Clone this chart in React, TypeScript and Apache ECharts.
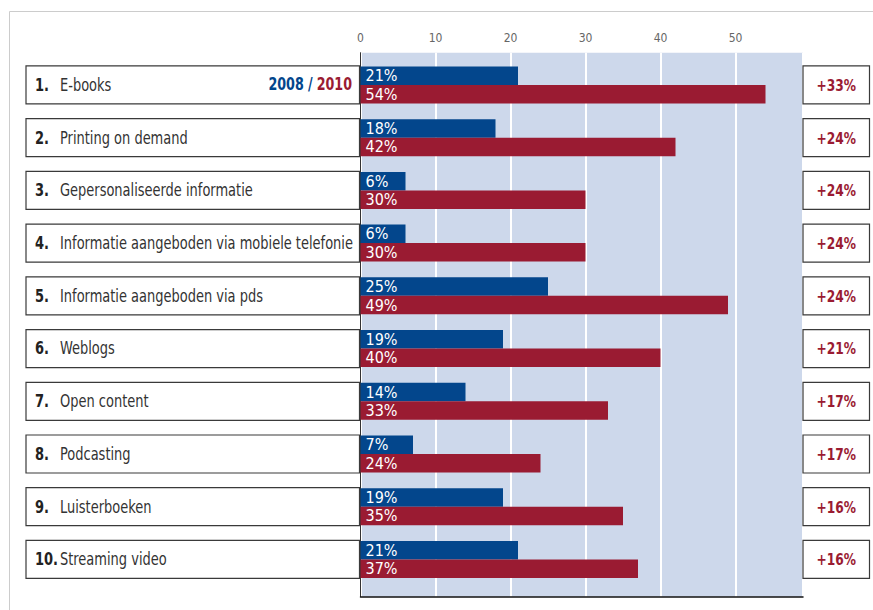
import React, { useEffect, useRef } from "react";
import * as echarts from "echarts";

const categories = [
  "E-books",
  "Printing on demand",
  "Gepersonaliseerde informatie",
  "Informatie aangeboden via mobiele telefonie",
  "Informatie aangeboden via pds",
  "Weblogs",
  "Open content",
  "Podcasting",
  "Luisterboeken",
  "Streaming video",
];
const values2008 = [21, 18, 6, 6, 25, 19, 14, 7, 19, 21];
const values2010 = [54, 42, 30, 30, 49, 40, 33, 24, 35, 37];
const growth = ["+33%", "+24%", "+24%", "+24%", "+24%", "+21%", "+17%", "+17%", "+16%", "+16%"];
const xTicks = [0, 10, 20, 30, 40, 50];

const FONT = "'DejaVu Sans Condensed', 'Liberation Sans', sans-serif";
const BLUE = "#03468c";
const RED = "#9a1b32";
const SX = 0.85;

export default function App() {
  const ref = useRef<HTMLDivElement>(null);
  useEffect(() => {
    if (!ref.current) return;
    const chart = echarts.init(ref.current, null, { renderer: "svg" });
    const gridLeft = 360.5;
    const gridWidth = 442.5;
    const barLabel = {
      show: true,
      position: "insideLeft",
      distance: 5,
      formatter: "{c}%",
      color: "#ffffff",
      fontSize: 16,
      fontFamily: FONT,
    };
    const option: any = {
      animation: false,
      backgroundColor: "#ffffff",
      grid: [
        {
          left: gridLeft,
          width: gridWidth,
          top: 52.7,
          height: 544,
          show: true,
          backgroundColor: "#cdd8eb",
          borderWidth: 0,
        },
        {
          left: gridLeft,
          width: gridWidth,
          top: 58.6,
          height: 527.2,
        },
      ],
      xAxis: [
        {
          gridIndex: 0,
          type: "value",
          position: "top",
          min: 0,
          max: 59,
          interval: 10,
          axisLine: { show: true, lineStyle: { color: "#111", width: 1.5 } },
          axisTick: { show: false },
          axisLabel: {
            color: "#666",
            fontSize: 12,
            fontFamily: FONT,
            margin: 9,
            showMaxLabel: false,
            formatter: (v: number) => (xTicks.indexOf(v) >= 0 ? String(v) : ""),
          },
          splitLine: { show: true, lineStyle: { color: "#ffffff", width: 2 } },
        },
        {
          gridIndex: 1,
          type: "value",
          min: 0,
          max: 59,
          show: false,
        },
      ],
      yAxis: [
        {
          gridIndex: 0,
          type: "value",
          min: 0,
          max: 1,
          axisLine: { show: true, lineStyle: { color: "#333", width: 1 } },
          axisTick: { show: false },
          axisLabel: { show: false },
          splitLine: { show: false },
        },
        {
          gridIndex: 1,
          type: "category",
          data: categories,
          inverse: true,
          show: false,
        },
      ],
      graphic: [
        {
          type: "polyline",
          shape: { points: [[9.5, 610], [9.5, 11.5], [873, 11.5]] },
          style: { stroke: "#cccccc", lineWidth: 1, fill: null },
          silent: true,
        },
        {
          type: "text",
          x: 352,
          y: 85,
          z: 10,
          scaleX: 0.83,
          style: {
            text: "{a|2008}{s|/}{b|2010}",
            align: "right",
            verticalAlign: "middle",
            rich: {
              a: { fill: BLUE, color: BLUE, font: `bold 17px ${FONT}` },
              s: { fill: BLUE, color: BLUE, font: `bold 17px ${FONT}`, padding: [0, 5, 0, 5] },
              b: { fill: RED, color: RED, font: `bold 17px ${FONT}` },
            },
          },
        },
      ],
      series: [
        {
          type: "custom",
          xAxisIndex: 1,
          yAxisIndex: 1,
          data: categories.map((_, i) => [0, i]),
          encode: { x: 0, y: 1 },
          clip: false,
          silent: true,
          renderItem: (params: any, api: any) => {
            const i = api.value(1);
            const pt = api.coord([0, i]);
            const cs = params.coordSys;
            const yc = pt[1];
            const h = 38;
            const left = 26;
            const right = 869.5;
            const x0 = cs.x;
            const x1 = cs.x + cs.width;
            return {
              type: "group",
              children: [
                {
                  type: "rect",
                  shape: { x: left, y: yc - h / 2, width: x0 - left - 1, height: h },
                  style: { fill: "#ffffff", stroke: "#3a3a3a", lineWidth: 1.2 },
                },
                {
                  type: "rect",
                  shape: { x: x1, y: yc - h / 2, width: right - x1, height: h },
                  style: { fill: "#ffffff", stroke: "#3a3a3a", lineWidth: 1.2 },
                },
                {
                  type: "text",
                  x: 35,
                  y: yc,
                  scaleX: SX,
                  style: {
                    text: `${i + 1}.`,
                    fill: "#222",
                    font: `bold 17px ${FONT}`,
                    align: "left",
                    verticalAlign: "middle",
                  },
                },
                {
                  type: "text",
                  x: 60,
                  y: yc,
                  scaleX: SX,
                  style: {
                    text: categories[i],
                    fill: "#333",
                    font: `17px ${FONT}`,
                    align: "left",
                    verticalAlign: "middle",
                  },
                },
                {
                  type: "text",
                  x: (x1 + right) / 2,
                  y: yc,
                  scaleX: SX,
                  style: {
                    text: growth[i],
                    fill: RED,
                    font: `bold 16px ${FONT}`,
                    align: "center",
                    verticalAlign: "middle",
                  },
                },
              ],
            };
          },
        },
        {
          name: "2008",
          type: "bar",
          xAxisIndex: 1,
          yAxisIndex: 1,
          data: values2008,
          barWidth: 18.5,
          barGap: "0%",
          itemStyle: { color: BLUE },
          label: barLabel,
        },
        {
          name: "2010",
          type: "bar",
          xAxisIndex: 1,
          yAxisIndex: 1,
          data: values2010,
          barWidth: 18.5,
          barGap: "0%",
          itemStyle: { color: RED },
          label: barLabel,
        },
      ],
    };
    chart.setOption(option);
    return () => chart.dispose();
  }, []);
  return (
    <div
      ref={ref}
      style={{ position: "fixed", left: 0, top: 0, width: 873, height: 610 }}
    />
  );
}
